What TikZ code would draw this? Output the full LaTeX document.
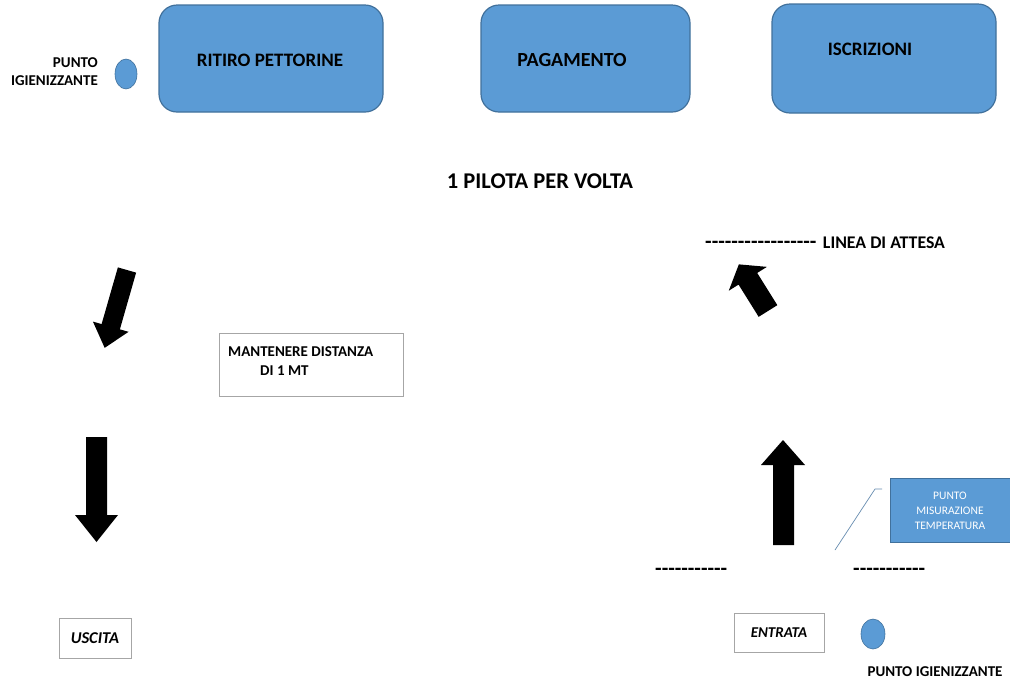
\documentclass[tikz,border=0pt]{standalone}
\usepackage{fontspec}
\newfontfamily\calfont{Carlito}
\begin{document}
\begin{tikzpicture}[x=1pt,y=-1pt,
  bluebox/.style={draw=bordblue,fill=fillblue,line width=1.2pt,rounded corners=18pt},
  boxtext/.style={font=\calfont\bfseries\fontsize{20}{24}\selectfont},
  lbl/.style={font=\calfont\bfseries\fontsize{15}{18}\selectfont,inner sep=0pt},
  whitebox/.style={draw=gray!70,line width=0.8pt,inner sep=0pt},
  dashtext/.style={font=\calfont\bfseries\fontsize{21.4}{24}\selectfont,inner sep=0pt},
  blockarrow/.style={fill=black}]
\definecolor{fillblue}{HTML}{5B9BD5}
\definecolor{bordblue}{HTML}{41719C}
\useasboundingbox[fill=white] (0,0) rectangle (1010,681);

% top row
\node[lbl,align=right,anchor=east] (pig1) at (98,72) {PUNTO\\IGIENIZZANTE};
\draw[draw=bordblue,fill=fillblue,line width=0.6pt] (126,74) ellipse [x radius=11,y radius=15];
\draw[bluebox] (159,5) rectangle (383,112);
\node[boxtext,font=\calfont\bfseries\fontsize{19}{24}\selectfont] (ritiro) at (270,60) {RITIRO PETTORINE};
\draw[bluebox] (481,5) rectangle (690,112);
\node[boxtext] (pag) at (572,60) {PAGAMENTO};
\draw[bluebox] (772,4) rectangle (996,113);
\node[boxtext,font=\calfont\bfseries\fontsize{19}{24}\selectfont] (iscr) at (870,49) {ISCRIZIONI};

\node[boxtext,font=\calfont\bfseries\fontsize{22.5}{26}\selectfont] (pilota) at (540,181) {1 PILOTA PER VOLTA};

% linea di attesa
\node[dashtext,anchor=base west] (dashA) at (705,248) {-----------------};
\node[lbl,font=\calfont\bfseries\fontsize{17.8}{20}\selectfont,anchor=base west] (attesa) at ([xshift=6pt]dashA.base east) {LINEA DI ATTESA};

% left tilted arrow
\begin{scope}[shift={(127,270)},rotate=-16]
\fill[blockarrow] (-9.5,0) -- (9.5,0) -- (9.5,59) -- (18.5,59) -- (0,81) -- (-18.5,59) -- (-9.5,59) -- cycle;
\end{scope}
% right tilted arrow
\begin{scope}[shift={(768,311)},rotate=-148]
\fill[blockarrow] (-11,0) -- (11,0) -- (11,38) -- (22.5,38) -- (0,55) -- (-22.5,38) -- (-11,38) -- cycle;
\end{scope}

% mantenere box
\draw[whitebox] (219,333) rectangle (403,396);
\node[lbl,anchor=west] (mant1) at (228,352) {MANTENERE DISTANZA};
\node[lbl,anchor=west] (mant2) at (260,371) {DI 1 MT};

% down arrow
\fill[blockarrow] (86,437) -- (107,437) -- (107,515) -- (118,515) -- (96.5,542) -- (75,515) -- (86,515) -- cycle;
% up arrow
\fill[blockarrow] (773,545) -- (794,545) -- (794,465) -- (805,465) -- (783,440) -- (761,465) -- (773,465) -- cycle;

% temperature box
\node[draw=bordblue,fill=fillblue,line width=0.6pt,minimum width=120pt,minimum height=64pt,inner sep=0pt,text=white,align=center,font=\calfont\fontsize{11.5}{15}\selectfont] (temp) at (950,510.5) {PUNTO\\MISURAZIONE\\TEMPERATURA};
\coordinate (cl1) at (835,550);
\coordinate (cl2) at (875,489);
\coordinate (cl3) at (882,489);
\draw[draw=bordblue!80,line width=0.7pt] (cl1) -- (cl2) -- (cl3);

% dashes
\node[dashtext,anchor=base west] (d1) at (655,575.5) {-----------};
\node[dashtext,anchor=base west] (d2) at (853,575.5) {-----------};

% uscita / entrata
\node[whitebox,minimum width=72pt,minimum height=40pt,font=\calfont\bfseries\itshape\fontsize{16.5}{18}\selectfont] (uscita) at (95,638) {USCITA};
\node[whitebox,minimum width=90pt,minimum height=39pt,font=\calfont\bfseries\itshape\fontsize{15}{18}\selectfont] (entrata) at (779,632.5) {ENTRATA};
\draw[draw=bordblue,fill=fillblue,line width=0.6pt] (873,634) ellipse [x radius=12,y radius=15];
\node[lbl] (pig2) at (935,672) {PUNTO IGIENIZZANTE};
\end{tikzpicture}
\end{document}
